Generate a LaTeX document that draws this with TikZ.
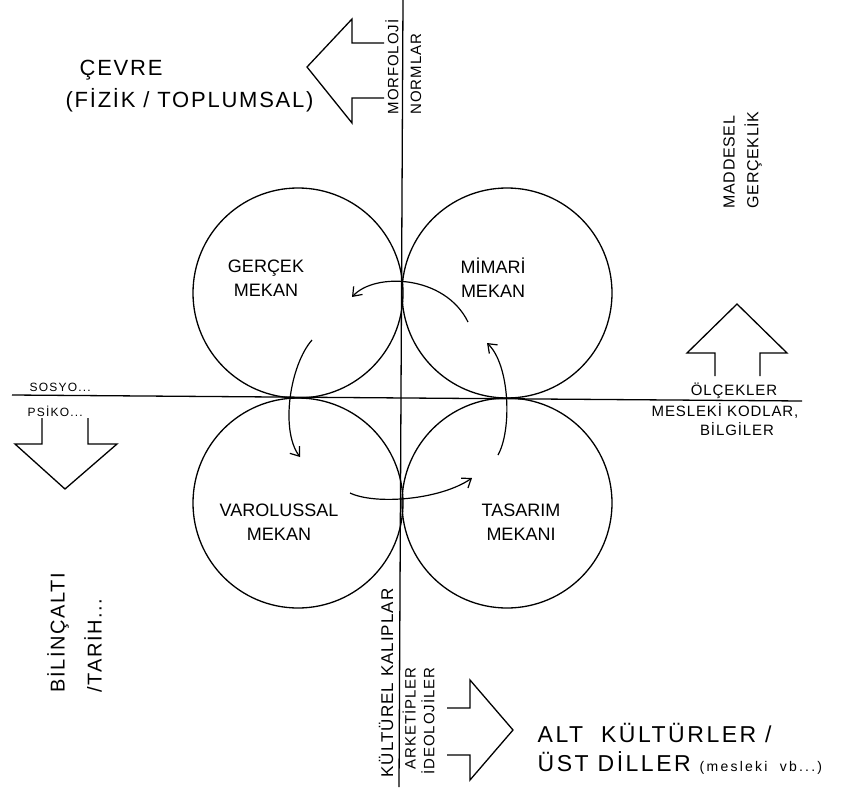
\documentclass[tikz,border=0pt]{standalone}
\usepackage{fontspec}
\setmainfont{Liberation Sans}
\usetikzlibrary{arrows.meta}

\begin{document}
\begin{tikzpicture}[x=1pt, y=-1pt, line width=1.3pt,
    every node/.style={inner sep=1pt},
    mekan/.style={draw, circle, minimum size=210pt, inner sep=0pt},
    biglbl/.style={font=\fontsize{18}{24}\selectfont, align=center},
    sidelbl/.style={font=\fontsize{22}{28}\selectfont\addfontfeature{LetterSpace=8}, align=left},
    smalllbl/.style={font=\fontsize{15}{17}\selectfont\addfontfeature{LetterSpace=6}},
    tinylbl/.style={font=\fontsize{12}{14}\selectfont\addfontfeature{LetterSpace=10}},
    donus/.style={-{Straight Barb[length=8pt,width=12pt]}, line width=1.2pt},
    blok/.style={line width=1.3pt, line join=miter}]
  \useasboundingbox (0,0) rectangle (859,787);

  % eksenler
  \coordinate (axtop) at (403,0);
  \coordinate (axbot) at (399,787);
  \coordinate (axleft) at (12,395);
  \coordinate (axright) at (802,401);
  \draw (axtop) -- (axbot);
  \draw (axleft) -- (axright);

  % dort mekan
  \node[mekan] (gercek) at (298,293) {};
  \node[mekan] (mimari) at (507,293) {};
  \node[mekan] (varolus) at (298,503) {};
  \node[mekan] (tasarim) at (507,503) {};
  \node[biglbl] (gercektxt) at (266,278) {GERÇEK\\MEKAN};
  \node[biglbl] (mimaritxt) at (493,278) {MİMARİ\\MEKAN};
  \node[biglbl] (varolustxt) at (279,522) {VAROLUSSAL\\MEKAN};
  \node[biglbl] (tasarimtxt) at (521,522) {TASARIM\\MEKANI};

  % donusumler
  \draw[donus] ([shift={(-39,29)}]mimari.center)
    .. controls (445,275) and (375,272) .. ([shift={(54,4)}]gercek.center);
  \draw[donus] ([shift={(14,47)}]gercek.center)
    .. controls (290,365) and (280,430) .. ([shift={(2,-46)}]varolus.center);
  \draw[donus] ([shift={(52,-10)}]varolus.center)
    .. controls (375,505) and (440,500) .. ([shift={(-35,-25)}]tasarim.center);
  \draw[donus] ([shift={(-9,-48)}]tasarim.center)
    .. controls (512,430) and (510,365) .. ([shift={(-20,50)}]mimari.center);

  % buyuk oklar
  \draw[blok] (384,43) -- (352,43) -- (352,19) -- (307,67) -- (352,123)
    -- (352,98) -- (384,98);
  \draw[blok] (715,376) -- (715,353) -- (687,353) -- (737,304) -- (787,353)
    -- (760,353) -- (760,376);
  \draw[blok] (42,418) -- (42,444) -- (15,444) -- (65,489) -- (117,444)
    -- (88,444) -- (88,418);
  \draw[blok] (447,708) -- (470,708) -- (470,680) -- (513,730) -- (470,780)
    -- (470,755) -- (447,755);

  % ust
  \node[sidelbl, anchor=west] (cevre) at (78,70) {ÇEVRE};
  \node[sidelbl, anchor=west] (fizik) at (64,100) {(FİZİK / TOPLUMSAL)};
  \node[smalllbl, rotate=90, anchor=west] (morf) at (392,116) {MORFOLOJİ};
  \node[smalllbl, rotate=90, anchor=west] (norm) at (416,116) {NORMLAR};

  % sag
  \node[font=\fontsize{16}{18}\selectfont\addfontfeature{LetterSpace=4}, rotate=90, anchor=west]
    (maddesel) at (729,210) {MADDESEL};
  \node[font=\fontsize{16}{18}\selectfont\addfontfeature{LetterSpace=4}, rotate=90, anchor=west]
    (gerceklik) at (753,210) {GERÇEKLİK};
  \node[smalllbl] (olcek) at (734,391) {ÖLÇEKLER};
  \node[smalllbl] (kodlar) at (725,411) {MESLEKİ KODLAR,};
  \node[smalllbl] (bilgi) at (737,429) {BİLGİLER};

  % sol
  \node[tinylbl, anchor=west] (sosyo) at (28,387) {SOSYO...};
  \node[tinylbl, anchor=west] (psiko) at (26,411) {PSİKO...};
  \node[sidelbl, font=\fontsize{20}{26}\selectfont\addfontfeature{LetterSpace=8},
    rotate=90, anchor=west] (bilinc) at (58,694) {BİLİNÇALTI};
  \node[sidelbl, font=\fontsize{20}{26}\selectfont\addfontfeature{LetterSpace=8},
    rotate=90, anchor=west] (tarih) at (93,694) {/TARİH...};

  % alt
  \node[smalllbl, font=\fontsize{17}{19}\selectfont\addfontfeature{LetterSpace=6},
    rotate=90, anchor=west] (kultur) at (386,779) {KÜLTÜREL KALIPLAR};
  \node[smalllbl, rotate=90, anchor=west] (arke) at (409,771) {ARKETİPLER};
  \node[smalllbl, rotate=90, anchor=west] (ideo) at (428,776) {İDEOLOJİLER};
  \node[sidelbl, font=\fontsize{23}{28}\selectfont\addfontfeature{LetterSpace=11},
    anchor=west] (altk) at (536,733) {ALT\ \ KÜLTÜRLER /};
  \node[sidelbl, font=\fontsize{23}{28}\selectfont\addfontfeature{LetterSpace=11},
    anchor=west] (ustd) at (536,763)
    {ÜST DİLLER {\fontsize{14}{16}\selectfont\addfontfeature{LetterSpace=16}(mesleki\ \ vb...)}};
\end{tikzpicture}
\end{document}
